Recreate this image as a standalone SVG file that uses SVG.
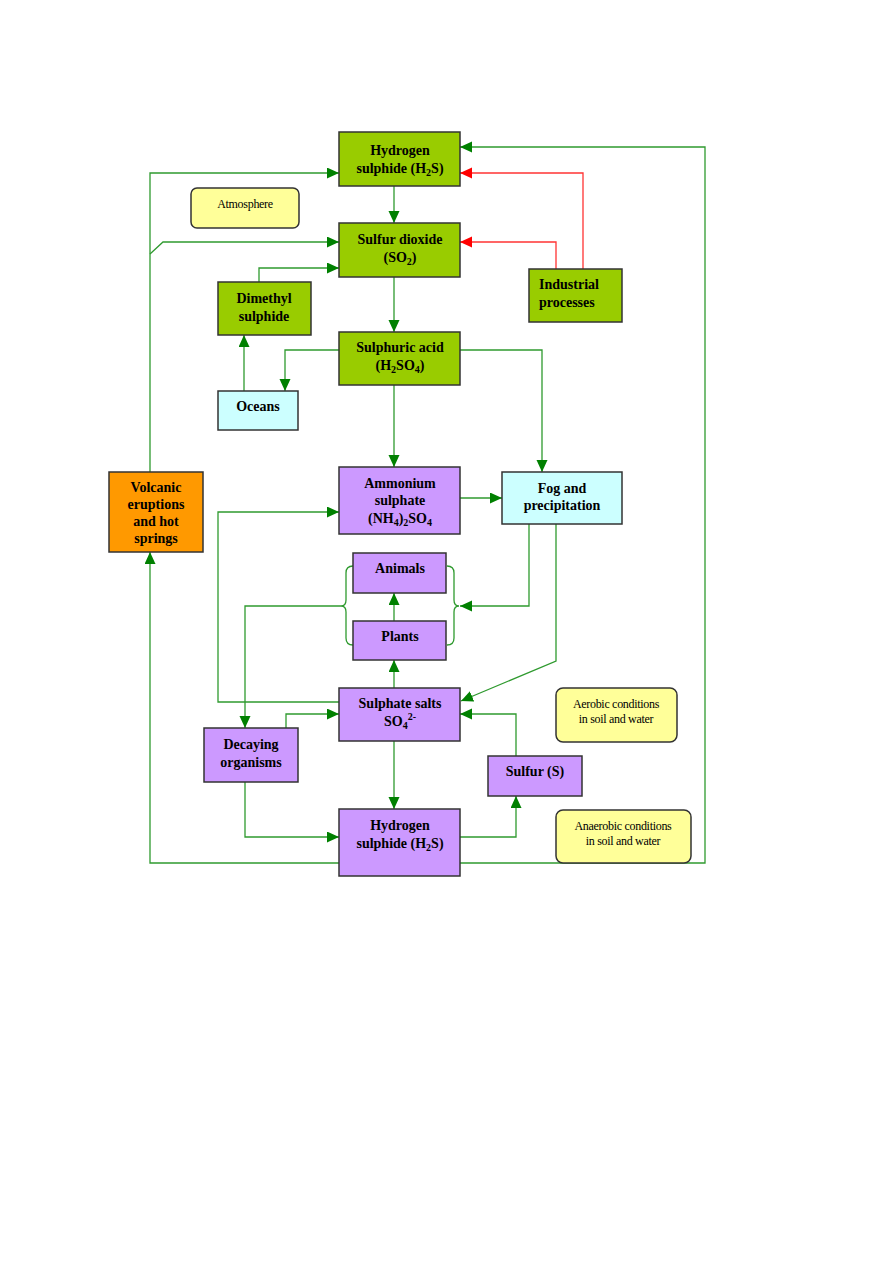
<svg xmlns="http://www.w3.org/2000/svg" width="893" height="1263" viewBox="0 0 893 1263">
<style>
.box{stroke:#333;stroke-width:1.5}
.g{fill:#99CC00}.p{fill:#CC99FF}.c{fill:#CCFFFF}.o{fill:#FF9900}.y{fill:#FFFF99}
.t{font-family:"Liberation Serif",serif;font-weight:bold;font-size:14px;fill:#000;text-anchor:middle}
.n{font-family:"Liberation Serif",serif;font-size:12px;fill:#000;text-anchor:middle;letter-spacing:-0.3px}
.ln{fill:none;stroke:#2f9a2f;stroke-width:1.3}
.rd{fill:none;stroke:#ff3333;stroke-width:1.3}
.s{font-size:10px}
</style>
<defs>
<marker id="ag" markerUnits="userSpaceOnUse" markerWidth="12" markerHeight="12" refX="12" refY="5.5" orient="auto"><path d="M0,0 L12,5.5 L0,11 z" fill="#008000"/></marker>
<marker id="ar" markerUnits="userSpaceOnUse" markerWidth="12" markerHeight="12" refX="12" refY="5.5" orient="auto"><path d="M0,0 L12,5.5 L0,11 z" fill="#ff0000"/></marker>
</defs>
<rect width="893" height="1263" fill="#fff"/>
<g id="connectors">
<path class="ln" d="M339,863 L150,863 L150,552" marker-end="url(#ag)"/>
<path class="ln" d="M460,863 L705,863 L705,147 L460,147" marker-end="url(#ag)"/>
<path class="ln" d="M150,472 L150,173 L339,173" marker-end="url(#ag)"/>
<path class="ln" d="M150,254 L163,242 L339,242" marker-end="url(#ag)"/>
<path class="ln" d="M394,186 L394,223" marker-end="url(#ag)"/>
<path class="ln" d="M394,277 L394,332" marker-end="url(#ag)"/>
<path class="ln" d="M394,385 L394,467" marker-end="url(#ag)"/>
<path class="ln" d="M259,282 L259,268 L339,268" marker-end="url(#ag)"/>
<path class="rd" d="M583,269 L583,173 L460,173" marker-end="url(#ar)"/>
<path class="rd" d="M556,269 L556,242 L460,242" marker-end="url(#ar)"/>
<path class="ln" d="M339,350 L285,350 L285,391" marker-end="url(#ag)"/>
<path class="ln" d="M244,391 L244,335" marker-end="url(#ag)"/>
<path class="ln" d="M460,350 L542,350 L542,472" marker-end="url(#ag)"/>
<path class="ln" d="M460,498 L502,498" marker-end="url(#ag)"/>
<path class="ln" d="M339,702 L218,702 L218,512 L339,512" marker-end="url(#ag)"/>
<path class="ln" d="M394,621 L394,593" marker-end="url(#ag)"/>
<path class="ln" d="M394,688 L394,660" marker-end="url(#ag)"/>
<path class="ln" d="M353,566 Q346,566 346,573 L346,600 Q346,606 341,606 Q346,606 346,612 L346,638 Q346,645 353,645"/>
<path class="ln" d="M447,566 Q454,566 454,573 L454,600 Q454,606 459,606 Q454,606 454,612 L454,638 Q454,645 447,645"/>
<path class="ln" d="M341,606 L245,606 L245,728" marker-end="url(#ag)"/>
<path class="ln" d="M529,524 L529,606 L460,606" marker-end="url(#ag)"/>
<path class="ln" d="M556,524 L556,661 L461,701" marker-end="url(#ag)"/>
<path class="ln" d="M286,728 L286,714 L339,714" marker-end="url(#ag)"/>
<path class="ln" d="M516,756 L516,714 L460,714" marker-end="url(#ag)"/>
<path class="ln" d="M394,741 L394,809" marker-end="url(#ag)"/>
<path class="ln" d="M245,782 L245,837 L339,837" marker-end="url(#ag)"/>
<path class="ln" d="M460,837 L516,837 L516,796" marker-end="url(#ag)"/>
</g>
<g id="h2s-top"><rect class="box g" x="339" y="132" width="121" height="54"/>
<text class="t" x="400" y="155">Hydrogen</text><text class="t" x="400" y="173">sulphide (H<tspan class="s" dy="3">2</tspan><tspan dy="-3">S)</tspan></text></g>
<g id="atmosphere"><rect class="box y" x="191" y="188" width="108" height="40" rx="6" stroke-width="1"/>
<text class="n" x="245" y="208">Atmosphere</text></g>
<g id="so2"><rect class="box g" x="339" y="223" width="121" height="54"/>
<text class="t" x="400" y="244">Sulfur dioxide</text><text class="t" x="400" y="262">(SO<tspan class="s" dy="3">2</tspan><tspan dy="-3">)</tspan></text></g>
<g id="industrial"><rect class="box g" x="529" y="269" width="93" height="53"/>
<text class="t" x="539" y="289" text-anchor="start" style="text-anchor:start">Industrial</text><text class="t" x="539" y="307" style="text-anchor:start">processes</text></g>
<g id="dimethyl"><rect class="box g" x="218" y="282" width="93" height="53"/>
<text class="t" x="264" y="303">Dimethyl</text><text class="t" x="264" y="321">sulphide</text></g>
<g id="sulphuric"><rect class="box g" x="339" y="332" width="121" height="53"/>
<text class="t" x="400" y="352">Sulphuric acid</text><text class="t" x="400" y="370">(H<tspan class="s" dy="3">2</tspan><tspan dy="-3">SO</tspan><tspan class="s" dy="3">4</tspan><tspan dy="-3">)</tspan></text></g>
<g id="oceans"><rect class="box c" x="218" y="391" width="80" height="39"/>
<text class="t" x="258" y="411">Oceans</text></g>
<g id="volcanic"><rect class="box o" x="109" y="472" width="94" height="80"/>
<text class="t" x="156" y="492">Volcanic</text><text class="t" x="156" y="509">eruptions</text><text class="t" x="156" y="526">and hot</text><text class="t" x="156" y="543">springs</text></g>
<g id="ammonium"><rect class="box p" x="339" y="467" width="121" height="67"/>
<text class="t" x="400" y="488">Ammonium</text><text class="t" x="400" y="505">sulphate</text><text class="t" x="400" y="523">(NH<tspan class="s" dy="3">4</tspan><tspan dy="-3">)</tspan><tspan class="s" dy="3">2</tspan><tspan dy="-3">SO</tspan><tspan class="s" dy="3">4</tspan></text></g>
<g id="fog"><rect class="box c" x="502" y="472" width="120" height="52"/>
<text class="t" x="562" y="493">Fog and</text><text class="t" x="562" y="510">precipitation</text></g>
<g id="animals"><rect class="box p" x="353" y="553" width="93" height="40"/>
<text class="t" x="400" y="573">Animals</text></g>
<g id="plants"><rect class="box p" x="353" y="621" width="93" height="39"/>
<text class="t" x="400" y="641">Plants</text></g>
<g id="sulphate"><rect class="box p" x="339" y="688" width="121" height="53"/>
<text class="t" x="400" y="708">Sulphate salts</text><text class="t" x="400" y="726">SO<tspan class="s" dy="3">4</tspan><tspan class="s" dy="-9">2-</tspan></text></g>
<g id="aerobic"><rect class="box y" x="556" y="688" width="121" height="54" rx="7" stroke-width="1"/>
<text class="n" x="616" y="708">Aerobic conditions</text><text class="n" x="616" y="723">in soil and water</text></g>
<g id="decaying"><rect class="box p" x="204" y="728" width="94" height="54"/>
<text class="t" x="251" y="749">Decaying</text><text class="t" x="251" y="767">organisms</text></g>
<g id="sulfur"><rect class="box p" x="488" y="756" width="94" height="40"/>
<text class="t" x="535" y="776">Sulfur (S)</text></g>
<g id="h2s-bottom"><rect class="box p" x="339" y="809" width="121" height="67"/>
<text class="t" x="400" y="830">Hydrogen</text><text class="t" x="400" y="848">sulphide (H<tspan class="s" dy="3">2</tspan><tspan dy="-3">S)</tspan></text></g>
<g id="anaerobic"><rect class="box y" x="556" y="810" width="135" height="53" rx="7" stroke-width="1"/>
<text class="n" x="623" y="830">Anaerobic conditions</text><text class="n" x="623" y="845">in soil and water</text></g>
</svg>
